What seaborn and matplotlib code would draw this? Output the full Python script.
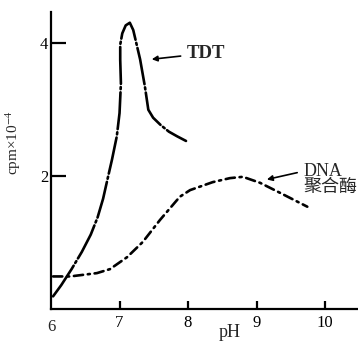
import matplotlib
matplotlib.use("Agg")
import matplotlib.pyplot as plt
import seaborn as sns
import pandas as pd

# pH activity profiles (cpm x 10^-4)
tdt_ph = [6.03, 6.15, 6.30, 6.45, 6.58, 6.68, 6.76, 6.83, 6.89, 6.96, 7.00, 7.02, 7.01,
          7.01, 7.04, 7.09, 7.15, 7.20, 7.25, 7.30, 7.37, 7.42, 7.49, 7.60, 7.72,
          7.84, 7.97]
tdt_cpm = [0.19, 0.36, 0.60, 0.86, 1.12, 1.38, 1.66, 1.98, 2.25, 2.60, 2.95, 3.40, 3.75,
           3.98, 4.15, 4.27, 4.31, 4.20, 3.98, 3.76, 3.35, 3.00, 2.88, 2.77, 2.67,
           2.60, 2.53]

pol_ph = [6.03, 6.28, 6.67, 6.86, 7.11, 7.34, 7.59, 7.88, 8.03, 8.36, 8.61, 8.80,
          9.05, 9.34, 9.74]
pol_cpm = [0.49, 0.49, 0.54, 0.60, 0.78, 1.01, 1.34, 1.69, 1.79, 1.91, 1.97, 1.99,
           1.90, 1.75, 1.54]

x_ticks = [7, 8, 9, 10]
x_labels = ["7", "8", "9", "10"]
y_ticks = [2, 4]
y_labels = ["2", "4"]

sns.set_style("white")
plt.rcParams["font.family"] = ["Liberation Serif", "Noto Sans CJK SC", "DejaVu Sans"]
plt.rcParams["mathtext.fontset"] = "stix"

fig = plt.figure(figsize=(3.58, 3.46), dpi=100)
ax = fig.add_axes([0.1425, 0.107, 0.8575, 0.858])

tdt = pd.DataFrame({"pH": tdt_ph, "cpm": tdt_cpm})
pol = pd.DataFrame({"pH": pol_ph, "cpm": pol_cpm})

sns.lineplot(data=tdt, x="pH", y="cpm", ax=ax, sort=False, estimator=None,
             color="black", lw=1.9, dashes=False)
sns.lineplot(data=pol, x="pH", y="cpm", ax=ax, sort=False, estimator=None,
             color="black", lw=1.9, dashes=False)
ax.lines[0].set_dashes((14, 1.2, 0.8, 1.2))
ax.lines[1].set_dashes((3.5, 1.8, 0.8, 1.8))
for ln in ax.lines:
    ln.set_solid_capstyle("round")
    ln.set_dash_capstyle("round")

ax.set_xlim(6, 10.48)
ax.set_ylim(0, 4.47)
for s in ["top", "right"]:
    ax.spines[s].set_visible(False)
for s in ["left", "bottom"]:
    ax.spines[s].set_color("black")
    ax.spines[s].set_linewidth(1.6)

ax.set_xticks(x_ticks)
ax.set_xticklabels(x_labels)
ax.set_yticks(y_ticks)
ax.set_yticklabels(y_labels)
ax.tick_params(axis="x", direction="in", length=6, width=1.6, pad=4, labelsize=12,
               colors="black", bottom=True)
ax.tick_params(axis="y", direction="in", length=11, width=1.6, pad=2, labelsize=12,
               colors="black", left=True)
ax.text(6, -0.15, "6", ha="center", va="top", fontsize=12)

ax.set_xlabel("pH", fontsize=13)
ax.xaxis.set_label_coords(0.583, -0.05)
ax.set_ylabel("cpm×10$^{-4}$", fontsize=11)
ax.yaxis.set_label_coords(-0.09, 0.56)

ax.annotate("TDT", xy=(7.47, 3.76), xytext=(7.98, 3.85), fontsize=13.5,
            ha="left", va="center", fontweight="bold",
            arrowprops=dict(arrowstyle="-|>", color="black", lw=1.2,
                            shrinkA=2, shrinkB=0, mutation_scale=8))
ax.annotate("DNA\n聚合酶", xy=(9.15, 1.95), xytext=(9.68, 1.95), fontsize=13,
            ha="left", va="center", linespacing=0.9,
            arrowprops=dict(arrowstyle="-|>", color="black", lw=1.2,
                            shrinkA=2, shrinkB=0, mutation_scale=8,
                            relpos=(0, 0.75)), annotation_clip=False)

fig.savefig("out.png", dpi=100)
